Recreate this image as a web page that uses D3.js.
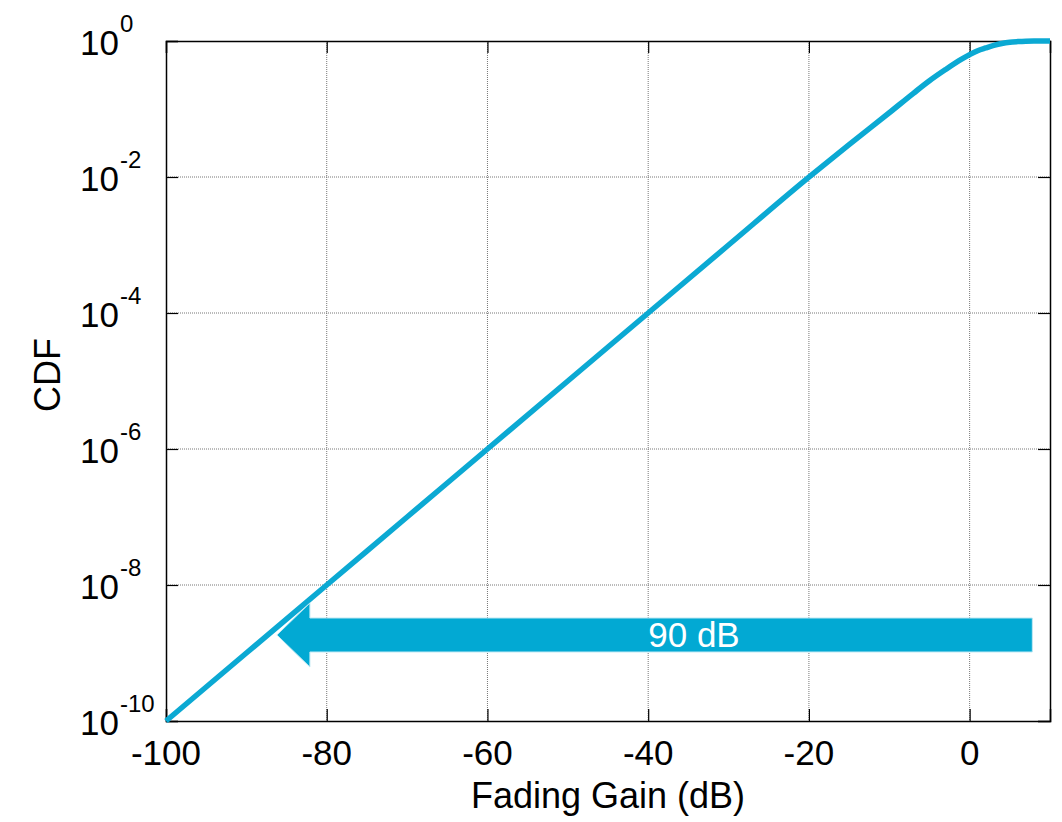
<!DOCTYPE html>
<html>
<head>
<meta charset="utf-8">
<script src="https://cdn.jsdelivr.net/npm/d3@7"></script>
<style>
  body { margin: 0; background: #fff; }
  svg text { font-family: "Liberation Sans", Arial, sans-serif; }
</style>
</head>
<body>
<div id="chart"></div>
<script>
// Data
const gainDb = [-100, -90, -80, -70, -60, -50, -40, -30, -20, -15, -10, -7, -5, -3, -1, 0, 1, 2, 3, 4, 5, 6, 7, 8, 10];
const cdf    = [1e-10, 1e-9, 1e-8, 1e-7, 1e-6, 1e-5, 1e-4, 1e-3, 0.00995, 0.03, 0.088, 0.17, 0.26, 0.38, 0.54, 0.63, 0.72, 0.79, 0.86, 0.92, 0.96, 0.98, 0.993, 0.998, 1];
const xTicks = [-100, -80, -60, -40, -20, 0];
const yExponents = [0, -2, -4, -6, -8, -10];
const arrowSpan = { from: 7.8, to: -86.2, level: 1.84e-9, label: "90 dB" };

const config = {
  width  : 1062,
  height : 822,
  margin : { top: 41, right: 12, bottom: 101, left: 166 },
  lineColor  : "#0ba9d3",
  arrowColor : "#02a9d3",
  gridColor  : "#777",
};

const innerW = config.width - config.margin.left - config.margin.right;
const innerH = config.height - config.margin.top - config.margin.bottom;

const svg = d3.select("#chart")
  .append("svg")
    .attr("width", config.width)
    .attr("height", config.height);

const g = svg.append("g")
  .attr("transform", "translate(" + config.margin.left + "," + config.margin.top + ")");

const x = d3.scaleLinear().domain([-100, 10]).range([0, innerW]);
const y = d3.scaleLog().domain([1e-10, 1]).range([innerH, 0]);

// grid
g.selectAll(".vgrid")
  .data(xTicks.filter(function (d) { return d > -100; }))
  .enter().append("line")
    .attr("x1", function (d) { return x(d); })
    .attr("x2", function (d) { return x(d); })
    .attr("y1", 0).attr("y2", innerH)
    .style("stroke", config.gridColor)
    .style("stroke-width", 1)
    .style("stroke-dasharray", "1,1");

g.selectAll(".hgrid")
  .data(yExponents.filter(function (e) { return e < 0 && e > -10; }))
  .enter().append("line")
    .attr("x1", 0).attr("x2", innerW)
    .attr("y1", function (e) { return y(Math.pow(10, e)); })
    .attr("y2", function (e) { return y(Math.pow(10, e)); })
    .style("stroke", config.gridColor)
    .style("stroke-width", 1)
    .style("stroke-dasharray", "1,1");

// axes with inward ticks
const xAxis = d3.axisBottom(x).tickValues(xTicks).tickSize(-12).tickFormat("");
const yAxis = d3.axisLeft(y).tickValues(yExponents.map(function (e) { return Math.pow(10, e); })).tickSize(-12).tickFormat("");
const xAxisTop = d3.axisTop(x).tickValues(xTicks).tickSize(-12).tickFormat("");
const yAxisRight = d3.axisRight(y).tickValues(yExponents.map(function (e) { return Math.pow(10, e); })).tickSize(-12).tickFormat("");

g.append("g").attr("transform", "translate(0," + innerH + ")").call(xAxis);
g.append("g").call(yAxis);
g.append("g").call(xAxisTop);
g.append("g").attr("transform", "translate(" + innerW + ",0)").call(yAxisRight);
g.selectAll(".domain").style("stroke", "#000").style("stroke-width", 1.5);
g.selectAll(".tick line").style("stroke", "#000").style("stroke-width", 1.2);

// tick labels
g.selectAll(".xlab")
  .data(xTicks)
  .enter().append("text")
    .attr("x", function (d) { return x(d); })
    .attr("y", innerH + 44)
    .attr("text-anchor", "middle")
    .style("font-size", "35px")
    .text(function (d) { return d; });

const ylab = g.selectAll(".ylab")
  .data(yExponents)
  .enter().append("g")
    .attr("transform", function (e) { return "translate(0," + y(Math.pow(10, e)) + ")"; });

ylab.append("text")
  .attr("x", -47)
  .attr("y", 14)
  .attr("text-anchor", "end")
  .style("font-size", "35px")
  .text("10");

ylab.append("text")
  .attr("x", -46)
  .attr("y", -9)
  .attr("text-anchor", "start")
  .style("font-size", "24px")
  .text(function (e) { return e; });

// axis titles
svg.append("text")
  .attr("x", config.margin.left + x(-45))
  .attr("y", 808)
  .attr("text-anchor", "middle")
  .style("font-size", "36px")
  .text("Fading Gain (dB)");

svg.append("text")
  .attr("transform", "translate(60,375) rotate(-90)")
  .attr("text-anchor", "middle")
  .style("font-size", "36px")
  .text("CDF");

// CDF curve
const points = gainDb.map(function (d, i) { return [d, cdf[i]]; });
const line = d3.line()
  .x(function (d) { return x(d[0]); })
  .y(function (d) { return y(d[1]); })
  .curve(d3.curveMonotoneX);

g.append("path")
  .datum(points)
  .attr("d", line)
  .style("fill", "none")
  .style("stroke", config.lineColor)
  .style("stroke-width", 5.5)
  .style("stroke-linejoin", "round");

// 90 dB arrow
const ay = y(arrowSpan.level);
const xr = x(arrowSpan.from), xt = x(arrowSpan.to);
const headLen = 33, bodyHalf = 17, headHalf = 32;
const arrowPath = d3.path();
arrowPath.moveTo(xr, ay - bodyHalf);
arrowPath.lineTo(xt + headLen, ay - bodyHalf);
arrowPath.lineTo(xt + headLen, ay - headHalf);
arrowPath.lineTo(xt, ay);
arrowPath.lineTo(xt + headLen, ay + headHalf);
arrowPath.lineTo(xt + headLen, ay + bodyHalf);
arrowPath.lineTo(xr, ay + bodyHalf);
arrowPath.closePath();

g.append("path")
  .attr("d", arrowPath.toString())
  .style("fill", config.arrowColor)
  .style("stroke", "#bfe8f3")
  .style("stroke-width", 1);

g.append("text")
  .attr("x", x(-34.3))
  .attr("y", ay + 12)
  .attr("text-anchor", "middle")
  .style("font-size", "35px")
  .style("fill", "#fff")
  .text(arrowSpan.label);
</script>
</body>
</html>
